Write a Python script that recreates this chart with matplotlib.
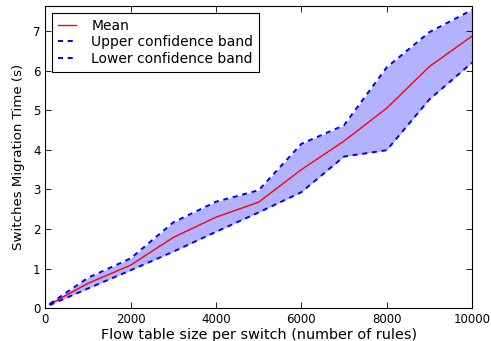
import matplotlib
matplotlib.use("Agg")
import matplotlib.pyplot as plt

# Flow table size (rules per switch) and migration time statistics (seconds)
rules = [100, 1000, 2000, 3000, 4000, 5000, 6000, 7000, 8000, 9000, 10000]
mean_time = [0.10, 0.63, 1.09, 1.79, 2.30, 2.68, 3.50, 4.22, 5.05, 6.10, 6.87]
upper_band = [0.11, 0.77, 1.26, 2.17, 2.69, 2.98, 4.15, 4.62, 6.08, 6.97, 7.53]
lower_band = [0.08, 0.50, 0.96, 1.43, 1.93, 2.42, 2.93, 3.83, 3.99, 5.27, 6.20]

fig = plt.figure(figsize=(4.91, 3.41), dpi=100)
ax = fig.add_axes([0.0923, 0.0959, 0.869, 0.8865])

ax.fill_between(rules, lower_band, upper_band, color="blue", alpha=0.3, linewidth=0)
ax.plot(rules, mean_time, color="red", linewidth=1.0, label="Mean")
dash = (0, (2.6, 2.4))
ax.plot(rules, upper_band, color="blue", linestyle=dash, linewidth=1.4,
        label="Upper confidence band")
ax.plot(rules, lower_band, color="blue", linestyle=dash, linewidth=1.4,
        label="Lower confidence band")

ax.set_xlim(0, 10000)
ax.set_ylim(0, 7.63)
ax.set_xticks([0, 2000, 4000, 6000, 8000, 10000])
ax.set_yticks([0, 1, 2, 3, 4, 5, 6, 7])
ax.tick_params(direction="in", top=True, right=True, labelsize=8.5, length=4, width=0.6)
for s in ax.spines.values():
    s.set_linewidth(0.8)

ax.set_xlabel("Flow table size per switch (number of rules)", fontsize=10.4, labelpad=1)
ax.set_ylabel("Switches Migration Time (s)", fontsize=9.6, labelpad=6)

leg = ax.legend(loc="upper left", fontsize=10, fancybox=False, framealpha=1,
                edgecolor="black", handlelength=1.3, handletextpad=1.1,
                borderaxespad=0.5, labelspacing=0.2, borderpad=0.4)
leg.get_frame().set_linewidth(0.8)

fig.savefig("out.png", dpi=100)
